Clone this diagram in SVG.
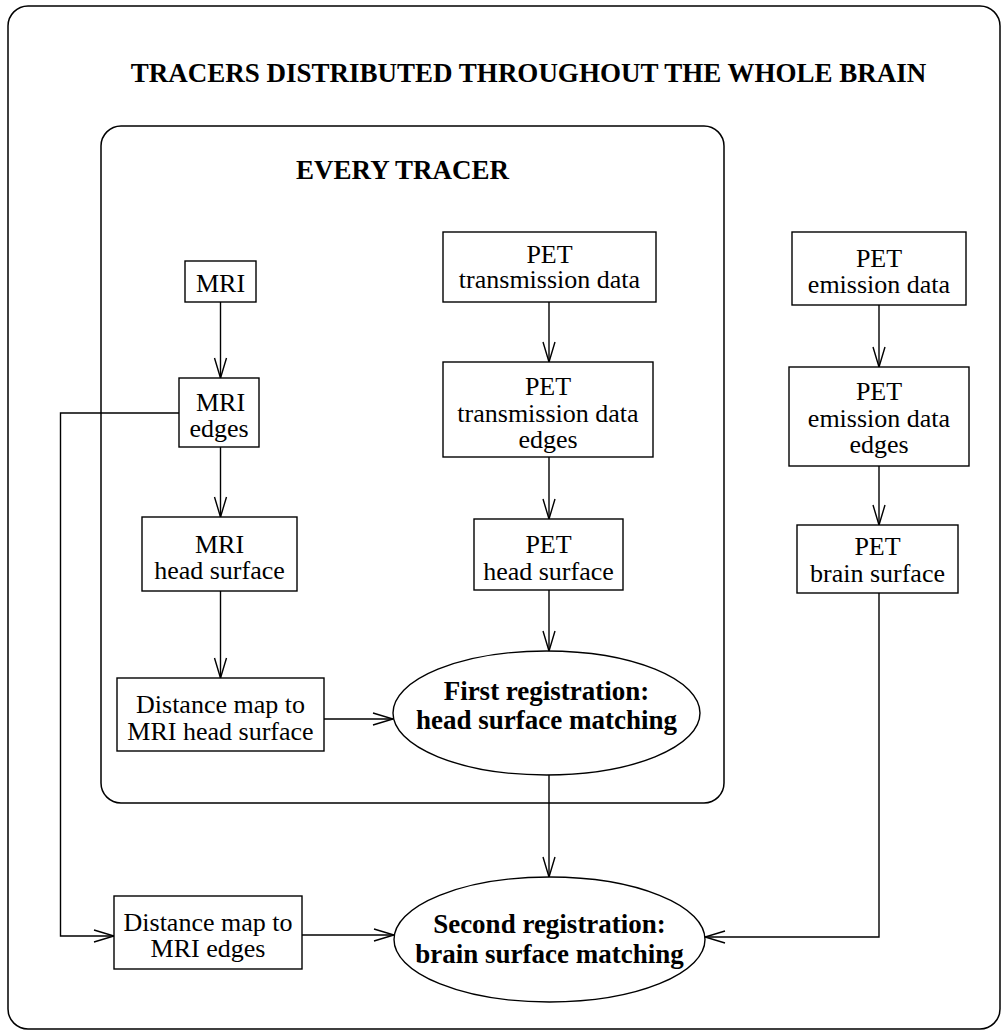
<svg xmlns="http://www.w3.org/2000/svg" width="1008" height="1036" viewBox="0 0 1008 1036">
<style>
.frame{fill:none;stroke:#000;stroke-width:1.5}
.box{fill:#fff;stroke:#000;stroke-width:1.4}
.t{font-family:"Liberation Serif","Times New Roman",serif;font-size:26px;fill:#000;text-anchor:middle}
.b{font-weight:bold;font-size:27px}
.c{fill:none;stroke:#000;stroke-width:1.4}
</style>
<defs>
<marker id="ah" markerUnits="userSpaceOnUse" markerWidth="24" markerHeight="14" refX="20" refY="6" orient="auto" overflow="visible">
<path d="M0,0 L20,6 L0,12" fill="none" stroke="#000" stroke-width="1.4"/>
</marker>
</defs>
<rect width="1008" height="1036" fill="#fff"/>
<g id="outer-frame">
<rect class="frame" x="8" y="6" width="992" height="1023" rx="20"/>
<text class="t b" x="528.5" y="82">TRACERS DISTRIBUTED THROUGHOUT THE WHOLE BRAIN</text>
</g>
<g id="every-tracer-frame">
<rect class="frame" x="101" y="126" width="623" height="677" rx="20"/>
<text class="t b" x="402.5" y="179">EVERY TRACER</text>
</g>
<g id="connectors">
<path class="c" d="M220.5,302 V378" marker-end="url(#ah)"/>
<path class="c" d="M220.5,447 V517" marker-end="url(#ah)"/>
<path class="c" d="M220.5,591 V678" marker-end="url(#ah)"/>
<path class="c" d="M324,719 H393" marker-end="url(#ah)"/>
<path class="c" d="M549,302 V362" marker-end="url(#ah)"/>
<path class="c" d="M549,457 V519" marker-end="url(#ah)"/>
<path class="c" d="M549,590 V651" marker-end="url(#ah)"/>
<path class="c" d="M549,775 V877" marker-end="url(#ah)"/>
<path class="c" d="M879,305 V367" marker-end="url(#ah)"/>
<path class="c" d="M879,466 V525" marker-end="url(#ah)"/>
<path class="c" d="M879,593 V937 H705" marker-end="url(#ah)"/>
<path class="c" d="M179,413 H60.5 V936 H114" marker-end="url(#ah)"/>
<path class="c" d="M302,935 H394" marker-end="url(#ah)"/>
</g>
<g id="mri">
<rect class="box" x="185" y="261" width="71" height="41"/>
<text class="t" x="220.5" y="292">MRI</text>
</g>
<g id="mri-edges">
<rect class="box" x="179" y="378" width="80" height="69"/>
<text class="t" x="220.5" y="411">MRI</text>
<text class="t" x="219" y="437">edges</text>
</g>
<g id="mri-head-surface">
<rect class="box" x="142" y="517" width="155" height="74"/>
<text class="t" x="219.5" y="553">MRI</text>
<text class="t" x="219.5" y="579">head surface</text>
</g>
<g id="distance-map-head">
<rect class="box" x="117" y="678" width="207" height="73"/>
<text class="t" x="220.5" y="713">Distance map to</text>
<text class="t" x="220.5" y="740">MRI head surface</text>
</g>
<g id="pet-transmission">
<rect class="box" x="443" y="232" width="213" height="70"/>
<text class="t" x="549.5" y="263">PET</text>
<text class="t" x="549.5" y="288">transmission data</text>
</g>
<g id="pet-transmission-edges">
<rect class="box" x="443" y="362" width="210" height="95"/>
<text class="t" x="548" y="395">PET</text>
<text class="t" x="548" y="422">transmission data</text>
<text class="t" x="548" y="448">edges</text>
</g>
<g id="pet-head-surface">
<rect class="box" x="474" y="519" width="149" height="71"/>
<text class="t" x="548.5" y="553">PET</text>
<text class="t" x="548.5" y="580">head surface</text>
</g>
<g id="first-registration">
<ellipse class="box" cx="546.5" cy="713" rx="153.5" ry="62"/>
<text class="t b" x="546.5" y="700">First registration:</text>
<text class="t b" x="546.5" y="729">head surface matching</text>
</g>
<g id="pet-emission">
<rect class="box" x="792" y="232" width="174" height="73"/>
<text class="t" x="879" y="267">PET</text>
<text class="t" x="879" y="293">emission data</text>
</g>
<g id="pet-emission-edges">
<rect class="box" x="789" y="367" width="180" height="99"/>
<text class="t" x="879" y="400">PET</text>
<text class="t" x="879" y="427">emission data</text>
<text class="t" x="879" y="453">edges</text>
</g>
<g id="pet-brain-surface">
<rect class="box" x="797" y="525" width="161" height="68"/>
<text class="t" x="877.5" y="555">PET</text>
<text class="t" x="877.5" y="582">brain surface</text>
</g>
<g id="distance-map-edges">
<rect class="box" x="114" y="896" width="188" height="73"/>
<text class="t" x="208" y="931">Distance map to</text>
<text class="t" x="208" y="957">MRI edges</text>
</g>
<g id="second-registration">
<ellipse class="box" cx="549.5" cy="939.5" rx="155.5" ry="62.5"/>
<text class="t b" x="549.5" y="933">Second registration:</text>
<text class="t b" x="549.5" y="963">brain surface matching</text>
</g>
</svg>
